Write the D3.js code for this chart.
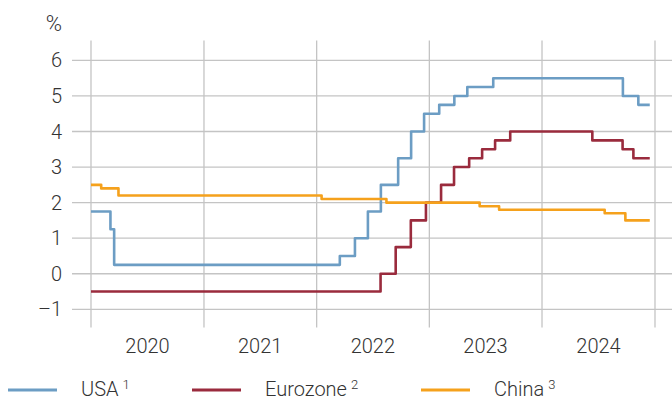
<!DOCTYPE html>
<html>
<head>
<meta charset="utf-8">
<script src="https://cdn.jsdelivr.net/npm/d3@7"></script>
<style>
  body { margin: 0; background: #fff; }
  svg text { font-family: Roboto, "Liberation Sans", sans-serif; font-weight: 300; fill: #333; }
</style>
</head>
<body>
<svg id="canvas" width="672" height="397"></svg>
<script>
// policy rates, step changes (date, rate in %)
const usaDates = ["2020-01-01","2020-03-04","2020-03-16","2022-03-17","2022-05-05","2022-06-16","2022-07-28","2022-09-22","2022-11-03","2022-12-15","2023-02-02","2023-03-23","2023-05-04","2023-07-27","2024-09-19","2024-11-08","2024-12-15"];
const usaRates = [1.75,1.25,0.25,0.5,1.0,1.75,2.5,3.25,4.0,4.5,4.75,5.0,5.25,5.5,5.0,4.75,4.75];

const euroDates = ["2020-01-01","2022-07-27","2022-09-14","2022-11-02","2022-12-21","2023-02-08","2023-03-22","2023-05-10","2023-06-21","2023-08-02","2023-09-20","2024-06-12","2024-09-18","2024-10-23","2024-12-15"];
const euroRates = [-0.5,0,0.75,1.5,2.0,2.5,3.0,3.25,3.5,3.75,4.0,3.75,3.5,3.25,3.25];

const chinaDates = ["2020-01-01","2020-02-03","2020-03-30","2022-01-17","2022-08-15","2023-06-13","2023-08-15","2024-07-22","2024-09-27","2024-12-15"];
const chinaRates = [2.5,2.4,2.2,2.1,2.0,1.9,1.8,1.7,1.5,1.5];

const years = [2020, 2021, 2022, 2023, 2024];
const yTicks = [-1, 0, 1, 2, 3, 4, 5, 6];

const seriesNames = ["USA", "Eurozone", "China"];
const seriesNotes = ["1", "2", "3"];
const colors = ["#6c9dc4", "#9a2b3d", "#f5a11c"];

const parse = d3.timeParse("%Y-%m-%d");
const series = [
  d3.zip(usaDates, usaRates),
  d3.zip(euroDates, euroRates),
  d3.zip(chinaDates, chinaRates)
].map(s => s.map(d => ({ date: parse(d[0]), value: d[1] })));

let canvas = d3.select("#canvas");

let x = d3.scaleTime()
  .domain([new Date(2020, 0, 1), new Date(2025, 0, 1)])
  .range([91, 655]);

let y = d3.scaleLinear()
  .domain([-1, 6])
  .range([309.3, 60.4]);

// horizontal grid + y labels
canvas.append("g")
  .selectAll("line")
  .data(yTicks)
  .enter()
  .append("line")
  .attr("x1", 72).attr("x2", 672)
  .attr("y1", d => y(d)).attr("y2", d => y(d))
  .attr("stroke", "#c4c4c4")
  .attr("stroke-width", 1.3);

canvas.append("g")
  .selectAll("text")
  .data(yTicks)
  .enter()
  .append("text")
  .attr("x", 62)
  .attr("y", d => y(d) + 7)
  .attr("text-anchor", "end")
  .attr("font-size", 20)
  .text(d => d < 0 ? "\u2013" + Math.abs(d) : d);

canvas.append("text")
  .attr("x", 62).attr("y", 31)
  .attr("text-anchor", "end")
  .attr("font-size", 22)
  .text("%");

// vertical grid at year boundaries
let bounds = years.concat([2025]).map(yr => new Date(yr, 0, 1));
canvas.append("g")
  .selectAll("line")
  .data(bounds)
  .enter()
  .append("line")
  .attr("x1", d => x(d)).attr("x2", d => x(d))
  .attr("y1", 40.5).attr("y2", 327.5)
  .attr("stroke", "#c4c4c4")
  .attr("stroke-width", 1.3);

// year labels
canvas.append("g")
  .selectAll("text")
  .data(years)
  .enter()
  .append("text")
  .attr("x", d => x(new Date(d, 6, 2)))
  .attr("y", 353)
  .attr("text-anchor", "middle")
  .attr("font-size", 20)
  .text(d => d);

// lines
let line = d3.line()
  .x(d => x(d.date))
  .y(d => y(d.value))
  .curve(d3.curveStepAfter);

canvas.append("g")
  .selectAll("path")
  .data(series)
  .enter()
  .append("path")
  .attr("d", line)
  .attr("fill", "none")
  .attr("stroke", (d, i) => colors[i])
  .attr("stroke-width", 2.6)
  .attr("stroke-linejoin", "round");

// legend
let legendX = [8, 192, 421];
let legend = canvas.append("g")
  .selectAll("g")
  .data(seriesNames)
  .enter()
  .append("g")
  .attr("transform", (d, i) => "translate(" + legendX[i] + ",0)");

legend.append("line")
  .attr("x1", 0).attr("x2", 49)
  .attr("y1", 390).attr("y2", 390)
  .attr("stroke", (d, i) => colors[i])
  .attr("stroke-width", 3);

let ltext = legend.append("text")
  .attr("x", 73)
  .attr("y", 396)
  .attr("font-size", 20);
ltext.append("tspan").text(d => d);
ltext.append("tspan")
  .attr("font-size", 13)
  .attr("dx", 4)
  .attr("dy", -7)
  .text((d, i) => seriesNotes[i]);
</script>
</body>
</html>
